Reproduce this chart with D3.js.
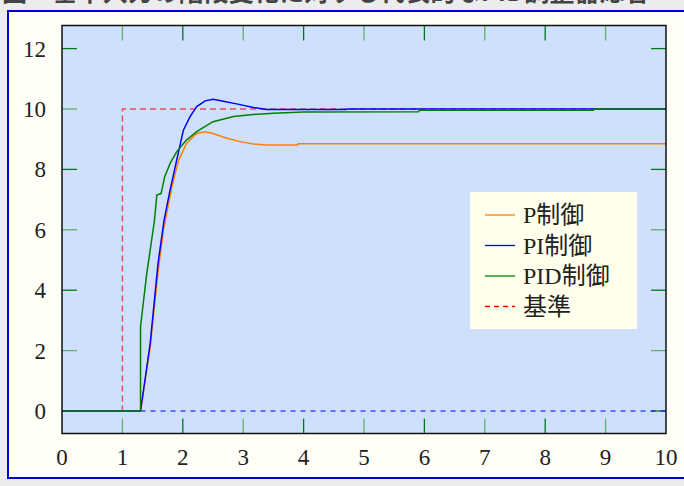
<!DOCTYPE html>
<html>
<head>
<meta charset="utf-8">
<script src="https://cdn.jsdelivr.net/npm/d3@7"></script>
<style>
  html, body { margin: 0; padding: 0; background: #ececec; overflow: hidden; }
  svg { display: block; }
</style>
</head>
<body>
<div id="chart"></div>
<script>
// step response data
const titleText = '図：基準入力の階段変化に対する代表的なPID調整器応答';
const xTicks = [0, 1, 2, 3, 4, 5, 6, 7, 8, 9, 10];
const yTicks = [0, 2, 4, 6, 8, 10, 12];

const refStep = [[0, 0], [1, 0], [1, 10], [10, 10]];
const zeroLine = [[1.3, 0], [10, 0]];

const pData = [
  [0, 0], [1.3, 0], [1.46, 2.1], [1.59, 4.6], [1.68, 6.0], [1.82, 7.43], [1.93, 8.3],
  [2.06, 8.86], [2.23, 9.19], [2.37, 9.25], [2.5, 9.19], [2.73, 9.03], [2.95, 8.92],
  [3.17, 8.84], [3.39, 8.81], [3.9, 8.81], [3.91, 8.85], [10, 8.85]
];
const piData = [
  [0, 0], [1.3, 0], [1.46, 2.24], [1.59, 4.89], [1.69, 6.32], [1.79, 7.32], [1.93, 8.59],
  [2.01, 9.3], [2.12, 9.75], [2.23, 10.08], [2.37, 10.27], [2.5, 10.32], [2.67, 10.26],
  [2.89, 10.17], [3.17, 10.05], [3.39, 9.98], [4.7, 9.98], [4.72, 10.0], [10, 10.0]
];
const pidData = [
  [0, 0], [1.3, 0], [1.3, 2.8], [1.4, 4.5], [1.53, 6.3], [1.57, 7.15], [1.64, 7.2],
  [1.7, 7.76], [1.79, 8.2], [1.9, 8.59], [2.06, 8.97], [2.23, 9.25], [2.5, 9.58],
  [2.84, 9.75], [3.17, 9.82], [3.5, 9.86], [4.0, 9.9], [5.9, 9.91], [5.92, 9.96],
  [8.8, 9.96], [8.82, 10.0], [10, 10.0]
];

const series = [
  { name: 'P制御', data: pData, color: '#ff8000', dash: null },
  { name: 'PI制御', data: piData, color: '#0000ff', dash: null },
  { name: 'PID制御', data: pidData, color: '#008000', dash: null },
  { name: '基準', data: refStep, color: '#ee3344', dash: '6,4' }
];

const width = 684, height = 486;
const plot = { left: 62, right: 666, top: 25.5, bottom: 433.5 };

const svg = d3.select('#chart').append('svg')
  .attr('width', width)
  .attr('height', height);

// title, mostly cut off by the top edge (as in the source picture)
svg.append('text')
  .attr('x', 2)
  .attr('y', 1)
  .attr('textLength', 648)
  .style('font-family', '"Noto Sans CJK JP", sans-serif')
  .style('font-size', '25px')
  .style('font-weight', 'bold')
  .style('fill', '#444')
  .text(titleText);

// frame
svg.append('rect')
  .attr('x', 8).attr('y', 11)
  .attr('width', 700).attr('height', 467)
  .attr('fill', '#fffff8')
  .attr('stroke', '#0000cc')
  .attr('stroke-width', 2);

const x = d3.scaleLinear().domain([0, 10]).range([plot.left, plot.right]);
const y = d3.scaleLinear().domain([0, 10]).range([411, 109]);

svg.append('rect')
  .attr('x', plot.left).attr('y', plot.top)
  .attr('width', plot.right - plot.left)
  .attr('height', plot.bottom - plot.top)
  .attr('fill', '#cee0fb');

// inward ticks on all four sides
const tickLen = 15;
const tickColor = (i) => i % 2 === 0 ? '#007a1a' : '#5cb06c';
const g = svg.append('g');
xTicks.slice(1, -1).forEach((t, i) => {
  g.append('line')
    .attr('x1', x(t)).attr('x2', x(t))
    .attr('y1', plot.bottom).attr('y2', plot.bottom - tickLen)
    .attr('stroke', tickColor(i + 1)).attr('stroke-width', 1.3);
  g.append('line')
    .attr('x1', x(t)).attr('x2', x(t))
    .attr('y1', plot.top).attr('y2', plot.top + tickLen)
    .attr('stroke', tickColor(i + 1)).attr('stroke-width', 1.3);
});
yTicks.forEach((t, i) => {
  g.append('line')
    .attr('x1', plot.left).attr('x2', plot.left + tickLen)
    .attr('y1', y(t)).attr('y2', y(t))
    .attr('stroke', tickColor(i)).attr('stroke-width', 1.3);
  g.append('line')
    .attr('x1', plot.right).attr('x2', plot.right - tickLen)
    .attr('y1', y(t)).attr('y2', y(t))
    .attr('stroke', tickColor(i)).attr('stroke-width', 1.3);
});

// tick labels
const labelFont = '"Liberation Serif", "DejaVu Serif", serif';
svg.append('g').selectAll('text')
  .data(xTicks)
  .join('text')
  .attr('x', d => x(d))
  .attr('y', 464.5)
  .attr('text-anchor', 'middle')
  .style('font-family', labelFont)
  .style('font-size', '23px')
  .style('fill', '#222')
  .text(d => d);
svg.append('g').selectAll('text')
  .data(yTicks)
  .join('text')
  .attr('x', 46)
  .attr('y', d => y(d) + 8)
  .attr('text-anchor', 'end')
  .style('font-family', labelFont)
  .style('font-size', '23px')
  .style('fill', '#222')
  .text(d => d);

const line = d3.line()
  .x(d => x(d[0]))
  .y(d => y(d[1]));

const lines = svg.append('g');
// zero reference
lines.append('path')
  .datum(zeroLine)
  .attr('fill', 'none')
  .attr('stroke', '#0000ff')
  .attr('stroke-width', 1)
  .attr('stroke-dasharray', '5,5')
  .attr('d', line);

// reference step under the responses
lines.append('path')
  .datum(refStep)
  .attr('fill', 'none')
  .attr('stroke', '#ee3344')
  .attr('stroke-opacity', 0.85)
  .attr('stroke-width', 1.5)
  .attr('stroke-dasharray', '6,4')
  .attr('d', line);

series.slice(0, 3).forEach(s => {
  lines.append('path')
    .datum(s.data)
    .attr('fill', 'none')
    .attr('stroke', s.color)
    .attr('stroke-width', 1.5)
    .attr('d', line);
});

// plot border on top
svg.append('rect')
  .attr('x', plot.left).attr('y', plot.top)
  .attr('width', plot.right - plot.left)
  .attr('height', plot.bottom - plot.top)
  .attr('fill', 'none')
  .attr('stroke', '#111')
  .attr('stroke-width', 1.5);

// legend
const legend = svg.append('g');
legend.append('rect')
  .attr('x', 470).attr('y', 192)
  .attr('width', 167).attr('height', 137)
  .attr('fill', '#ffffec');
series.forEach((s, i) => {
  const cy = 215 + i * 30.5;
  legend.append('line')
    .attr('x1', 485).attr('x2', 515)
    .attr('y1', cy).attr('y2', cy)
    .attr('stroke', s.dash ? '#ff0000' : s.color)
    .attr('stroke-width', 1.3)
    .attr('stroke-dasharray', s.dash ? '5,4' : null);
  legend.append('text')
    .attr('x', 523)
    .attr('y', cy + 8)
    .style('font-family', '"Liberation Serif", "Noto Sans CJK JP", serif')
    .style('font-size', '24px')
    .style('fill', '#222')
    .text(s.name);
});
</script>
</body>
</html>
